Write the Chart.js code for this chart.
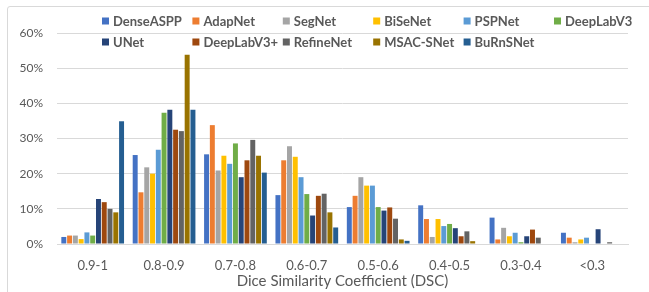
<!DOCTYPE html>
<html>
<head>
<meta charset="utf-8">
<script src="https://cdn.jsdelivr.net/npm/chart.js@4"></script>
<style>
    html, body { margin: 0; padding: 0; background: #fff; overflow: hidden; }
    #frame { position: absolute; left: 7px; top: 6px; width: 700px; height: 320px; border: 1px solid #d9d9d9; border-radius: 3px; }
    #wrap { position: absolute; left: 0; top: 0; width: 649px; height: 292px; }
</style>
</head>
<body>
<div id="frame"></div>
<div id="wrap"><canvas id="chartDsc" width="649" height="292"></canvas></div>
<script>
// --- Datos ---
const categories = ['0.9-1', '0.8-0.9', '0.7-0.8', '0.6-0.7', '0.5-0.6', '0.4-0.5', '0.3-0.4', '<0.3'];
const yTicks = [0, 10, 20, 30, 40, 50, 60];

const denseAspp = [2.0, 25.3, 25.5, 13.9, 10.5, 11.0, 7.5, 3.2];
const adapNet   = [2.4, 14.7, 33.8, 23.8, 13.7, 7.1, 1.3, 1.8];
const segNet    = [2.4, 21.8, 20.9, 27.8, 19.0, 2.0, 4.6, 0.5];
const biSeNet   = [1.4, 20.0, 25.1, 24.8, 16.6, 7.1, 2.2, 1.3];
const pspNet    = [3.3, 26.8, 22.8, 19.0, 16.6, 5.1, 3.2, 1.8];
const deepLabV3 = [2.4, 37.3, 28.6, 14.2, 10.5, 5.7, 0.5, 0];
const uNet      = [12.8, 38.2, 19.0, 8.1, 9.5, 4.5, 2.2, 4.2];
const deepLabV3p = [11.9, 32.5, 23.8, 13.7, 10.4, 2.2, 4.1, 0];
const refineNet = [10.0, 32.1, 29.6, 14.3, 7.2, 3.6, 1.8, 0.5];
const msacSNet  = [9.0, 53.8, 25.1, 9.0, 1.3, 0.8, 0, 0];
const buRnSNet  = [34.9, 38.2, 20.3, 4.7, 0.9, 0, 0, 0];

const seriesNames = ['DenseASPP', 'AdapNet', 'SegNet', 'BiSeNet', 'PSPNet', 'DeepLabV3',
    'UNet', 'DeepLabV3+', 'RefineNet', 'MSAC-SNet', 'BuRnSNet'];
const seriesData = [denseAspp, adapNet, segNet, biSeNet, pspNet, deepLabV3,
    uNet, deepLabV3p, refineNet, msacSNet, buRnSNet];
const seriesColors = ['#4472C4', '#ED7D31', '#A5A5A5', '#FFC000', '#5B9BD5', '#70AD47',
    '#264478', '#9E480E', '#636363', '#997300', '#255E91'];

const textColor = '#595959';
const fontFamily = 'Lato, "Open Sans", sans-serif';

// --- Leyenda en rejilla (como Excel) ---
const gridLegend = {
    id: 'gridLegend',
    afterDraw(chart) {
        const ctx = chart.ctx;
        ctx.save();
        ctx.font = 'bold 13px ' + fontFamily;
        ctx.textBaseline = 'middle';
        ctx.textAlign = 'left';
        chart.data.datasets.forEach((ds, i) => {
            const col = i % 6;
            const row = Math.floor(i / 6);
            const x = 102 + col * 90.4;
            const y = 21 + row * 21;
            ctx.fillStyle = ds.backgroundColor;
            ctx.fillRect(x, y - 3.5, 7, 7);
            ctx.fillStyle = textColor;
            ctx.fillText(ds.label, x + 11, y + 0.5);
        });
        ctx.restore();
    }
};

// --- Gráfica ---
const ctx = document.getElementById('chartDsc').getContext('2d');
new Chart(ctx, {
    type: 'bar',
    data: {
        labels: categories,
        datasets: seriesNames.map((name, i) => ({
            label: name,
            data: seriesData[i],
            backgroundColor: seriesColors[i],
            categoryPercentage: 0.89,
            barPercentage: 0.86
        }))
    },
    options: {
        responsive: false,
        animation: false,
        layout: { padding: { top: 33, right: 21, left: 0, bottom: 0 } },
        plugins: {
            legend: { display: false },
            tooltip: { enabled: false }
        },
        scales: {
            x: {
                grid: { display: false },
                border: { color: '#d9d9d9' },
                ticks: {
                    color: textColor,
                    font: { family: fontFamily, size: 13 },
                    padding: 6,
                    maxRotation: 0
                },
                title: {
                    display: true,
                    text: 'Dice Similarity Coefficient (DSC)',
                    color: textColor,
                    font: { family: fontFamily, size: 15 },
                    padding: { top: 0, bottom: 2 }
                },
                afterFit(scale) { scale.height = 48; }
            },
            y: {
                min: 0,
                max: 60,
                afterBuildTicks(scale) { scale.ticks = yTicks.map(v => ({ value: v })); },
                grid: { color: '#d9d9d9', drawTicks: false },
                border: { display: false },
                ticks: {
                    color: textColor,
                    font: { family: fontFamily, size: 12 },
                    padding: 14,
                    callback: v => v + '%'
                },
                afterFit(scale) { scale.width = 57; }
            }
        }
    },
    plugins: [gridLegend]
});
</script>
</body>
</html>
